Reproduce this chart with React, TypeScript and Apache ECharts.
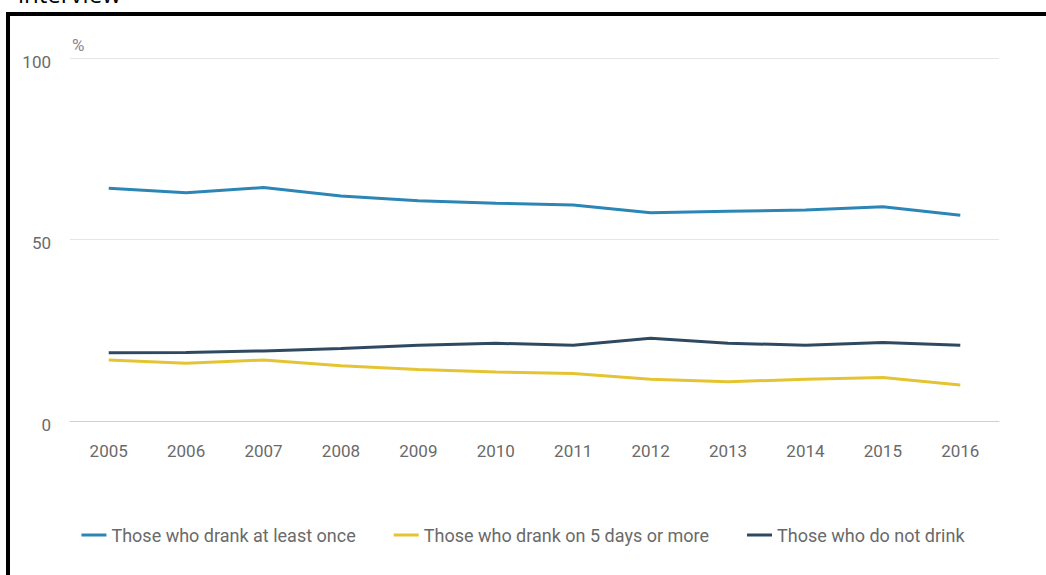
import React, { useEffect, useRef } from "react";
import * as echarts from "echarts";

const years = ["2005", "2006", "2007", "2008", "2009", "2010", "2011", "2012", "2013", "2014", "2015", "2016"];
const drankAtLeastOnce = [64.1, 62.9, 64.3, 62.0, 60.7, 60.0, 59.5, 57.4, 57.8, 58.1, 59.0, 56.7];
const drankFiveDaysOrMore = [16.8, 15.9, 16.8, 15.2, 14.2, 13.5, 13.1, 11.5, 10.8, 11.5, 12.0, 9.9];
const doNotDrink = [18.8, 18.9, 19.3, 20.0, 20.9, 21.4, 20.9, 22.8, 21.4, 20.9, 21.6, 20.9];
const seriesNames = ["Those who drank at least once", "Those who drank on 5 days or more", "Those who do not drink"];
const colors = ["#2b86b5", "#e5c431", "#2f4a60"];

const FONT = "Roboto, 'Liberation Sans', sans-serif";

export default function App() {
  const ref = useRef<HTMLDivElement>(null);
  useEffect(() => {
    if (!ref.current) return;
    const chart = echarts.init(ref.current, null, { renderer: "svg" });
    const data = [drankAtLeastOnce, drankFiveDaysOrMore, doNotDrink];
    chart.setOption({
      animation: false,
      backgroundColor: "#ffffff",
      color: colors,
      textStyle: { fontFamily: FONT },
      grid: { left: 70, right: 47, top: 58, bottom: 154, containLabel: false },
      legend: {
        bottom: 26,
        left: "center",
        icon: "rect",
        itemWidth: 25,
        itemHeight: 3,
        itemGap: 38,
        textStyle: { color: "#6a6a6a", fontSize: 18, fontFamily: FONT },
        data: seriesNames,
      },
      xAxis: {
        type: "category",
        data: years,
        boundaryGap: true,
        axisLine: { lineStyle: { color: "#cfcfcf", width: 1 } },
        axisTick: { alignWithLabel: true, length: 10, lineStyle: { color: "#cfcfcf" } },
        axisLabel: { color: "#6a6a6a", fontSize: 17, margin: 21, fontFamily: FONT },
      },
      yAxis: {
        type: "value",
        min: 0,
        max: 100,
        interval: 50,
        name: "%",
        nameLocation: "end",
        nameGap: 5,
        nameTextStyle: { color: "#8a8a8a", fontSize: 17, align: "left", verticalAlign: "bottom", fontFamily: FONT, padding: [0, 0, 0, 2] },
        axisLine: { show: false },
        axisTick: { show: false },
        axisLabel: { color: "#6a6a6a", fontSize: 17, margin: 19, fontFamily: FONT, verticalAlign: "top", padding: [-5, 0, 0, 0] },
        splitLine: { lineStyle: { color: "#e6e6e6", width: 1 } },
      },
      graphic: [
        {
          type: "text",
          left: 18,
          top: -19,
          style: { text: "interview", fontSize: 24, fill: "#000", fontFamily: "'Open Sans', sans-serif" },
        },
        {
          type: "rect",
          shape: { x: 8, y: 14, width: 1200, height: 800 },
          style: { fill: "none", stroke: "#000", lineWidth: 4 },
          silent: true,
        },
      ],
      series: seriesNames.map((name, i) => ({
        name,
        type: "line",
        data: data[i],
        symbol: "none",
        lineStyle: { width: 3, color: colors[i] },
        itemStyle: { color: colors[i] },
      })),
    });
    return () => chart.dispose();
  }, []);
  return (
    <div
      ref={ref}
      style={{ position: "fixed", left: 0, top: 0, width: 1046, height: 575 }}
    />
  );
}
